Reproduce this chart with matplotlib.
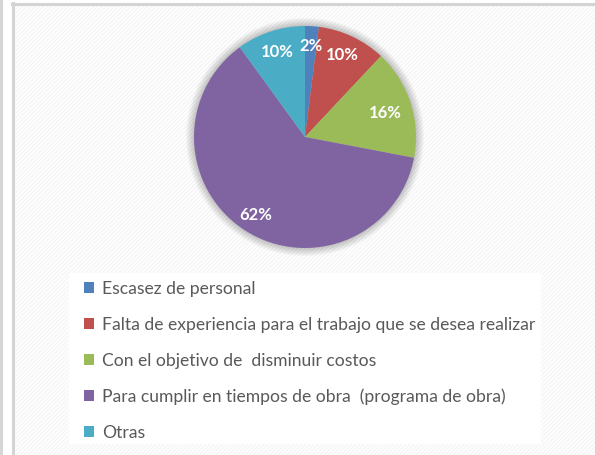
import matplotlib
matplotlib.use("Agg")
import matplotlib.pyplot as plt
from matplotlib.patches import Rectangle, Circle
from matplotlib.lines import Line2D

# Motivos de subcontratación (porcentaje de respuestas)
categories = [
    "Escasez de personal",
    "Falta de experiencia para el trabajo que se desea realizar",
    "Con el objetivo de  disminuir costos",
    "Para cumplir en tiempos de obra  (programa de obra)",
    "Otras",
]
values = [2, 10, 16, 62, 10]
colors = ["#4F81BD", "#C0504D", "#9BBB59", "#8064A2", "#4BACC6"]

W, H, DPI = 595, 455, 100
fig = plt.figure(figsize=(W / DPI, H / DPI), dpi=DPI)
fig.patch.set_facecolor("white")

def px(x0, y0, w, h):
    """Pixel box (top-left origin) to figure fraction."""
    return [x0 / W, 1 - (y0 + h) / H, w / W, h / H]

# Chart area background with faint diagonal texture and frame
bg = fig.add_axes([0, 0, 1, 1])
bg.set_xlim(0, W)
bg.set_ylim(H, 0)
bg.axis("off")
bg.add_patch(Rectangle((13, 4), W, H, facecolor="white", edgecolor="none"))
bg.add_patch(Rectangle((13, 4), W, H, facecolor="none", edgecolor="#f5f5f5",
                       hatch="////////", linewidth=0))
bg.add_line(Line2D([1, 1], [0, H], color="#d6d6d6", lw=2.2))
bg.add_line(Line2D([13, 13], [3, H], color="#d4d4d4", lw=2.2))
bg.add_line(Line2D([12, W], [4, 4], color="#d4d4d4", lw=2.2))
# legend panel
bg.add_patch(Rectangle((69, 273), 472, 171, facecolor="white", edgecolor="none"))

# Pie
cx, cy, r = 305, 137, 111
pad = 1.25
ax = fig.add_axes(px(cx - r * pad, cy - r * pad, 2 * r * pad, 2 * r * pad))
ax.set_xlim(-pad, pad)
ax.set_ylim(-pad, pad)
ax.set_aspect("equal")
ax.axis("off")

# soft shadow glow around the pie
for i in range(14):
    rr = 1.0 + 0.075 * (1 - i / 14)
    ax.add_patch(Circle((0, 0.0), rr, facecolor="#000000", alpha=0.016,
                        edgecolor="none", zorder=0))

wedges, texts, autotexts = ax.pie(
    values, colors=colors, startangle=90, counterclock=False,
    radius=1.0, autopct=lambda p: f"{p:.0f}%", pctdistance=0.7,
    wedgeprops=dict(edgecolor="none", linewidth=0),
    textprops=dict(color="white", fontsize=12, fontweight="bold", family="Lato"),
)
for t in wedges:
    t.set_zorder(2)
# label placement
label_pos = [(0.05, 0.82), (0.34, 0.74), (0.72, 0.22), (-0.44, -0.70), (-0.25, 0.77)]
for t, (x, y) in zip(autotexts, label_pos):
    t.set_position((x, y))
    t.set_zorder(3)

# Legend
leg = fig.legend(
    wedges, categories, loc="upper left",
    bbox_to_anchor=(84 / W, 1 - 281 / H), frameon=False,
    prop=dict(family="Lato", size=12.65), labelcolor="#595959",
    handlelength=0.58, handleheight=0.58, handletextpad=0.45,
    labelspacing=1.13, borderpad=0, borderaxespad=0,
)

fig.savefig("out.png", dpi=DPI)
